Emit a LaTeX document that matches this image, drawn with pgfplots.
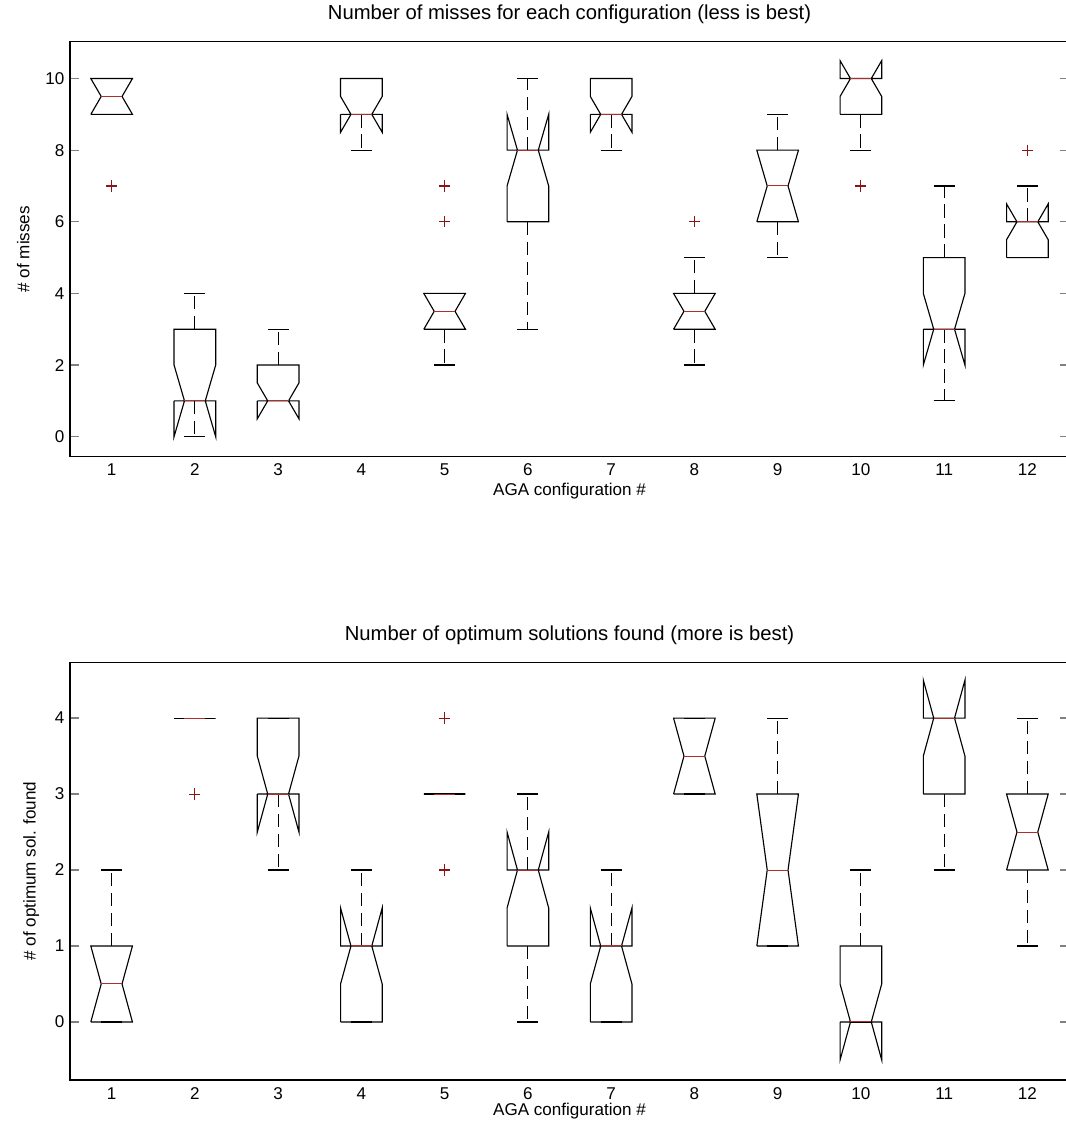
\documentclass[border=0pt]{standalone}
\usepackage{fontspec}
\setmainfont{Liberation Sans}
\usepackage{pgfplots}
\pgfplotsset{compat=1.18}

\definecolor{medred}{RGB}{175,45,45}
\definecolor{outred}{RGB}{140,20,20}

\pgfplotsset{
  boxline/.style={black, line width=0.85pt},
  whisk/.style={black, line width=0.85pt, dash pattern=on 10pt off 5pt},
  medline/.style={medred, line width=0.75pt},
  outl/.style={only marks, mark=+, mark size=4.2pt, outred, mark options={line width=0.8pt}},
  matbox/.style={
    scale only axis,
    width=749.25pt,
    xmin=0.5, xmax=12.5,
    xtick={1,...,12},
    xtick style={draw=none},
    tick pos=both,
    tick align=inside,
    major tick length=6.75pt,
    ytick style={line width=0.9pt},
    axis line style={line width=1.1pt},
    font=\fontsize{12.8}{15}\selectfont,
    ticklabel style={font=\fontsize{12.8}{15}\selectfont},
    /pgf/number format/assume math mode=true,
    yticklabel style={inner sep=1pt, xshift=-3pt},
    xticklabel style={yshift=-2pt},
    title style={at={(axis description cs:0.5,1)}, anchor=center, yshift=14.5pt, font=\fontsize{15.2}{17}\selectfont},
    xlabel style={at={(axis description cs:0.5,0)}, anchor=center},
    ylabel style={at={(axis description cs:0,0.5)}, anchor=center},
  },
}

% x, q1, q3, median, notch low, notch high, whisker low, whisker high
\newcommand{\nbox}[8]{%
  \pgfmathsetmacro\xl{#1-0.25}%
  \pgfmathsetmacro\xr{#1+0.25}%
  \pgfmathsetmacro\xml{#1-0.125}%
  \pgfmathsetmacro\xmr{#1+0.125}%
  \edef\tmp{%
    \noexpand\addplot[whisk] coordinates {(#1,#3) (#1,#8)};
    \noexpand\addplot[whisk] coordinates {(#1,#2) (#1,#7)};
    \noexpand\addplot[boxline] coordinates {(\xml,#8) (\xmr,#8)};
    \noexpand\addplot[boxline] coordinates {(\xml,#7) (\xmr,#7)};
    \noexpand\addplot[boxline] coordinates {(\xl,#2) (\xl,#5) (\xml,#4) (\xl,#6) (\xl,#3) (\xr,#3) (\xr,#6) (\xmr,#4) (\xr,#5) (\xr,#2) (\xl,#2)};
    \noexpand\addplot[medline] coordinates {(\xml,#4) (\xmr,#4)};
  }\tmp
}

\begin{document}
\begin{tikzpicture}
\path[use as bounding box] (0,0) rectangle (799.5pt,846pt);
\clip (0,0) rectangle (799.5pt,846pt);

\begin{axis}[matbox,
  at={(52.5pt,503.5pt)}, anchor=south west,
  height=311.25pt,
  ymin=-0.558, ymax=11.03,
  ytick={0,2,4,6,8,10},
  title={Number of misses for each configuration (less is best)},
  xlabel={AGA configuration \#},
  ylabel={\# of misses},
  xlabel style={yshift=-26pt},
  ylabel style={yshift=35pt},
]
\nbox{1}{9}{10}{9.5}{9}{10}{9}{10}
\nbox{2}{1}{3}{1}{0}{2}{0}{4}
\nbox{3}{1}{2}{1}{0.5}{1.5}{1}{3}
\nbox{4}{9}{10}{9}{8.5}{9.5}{8}{10}
\nbox{5}{3}{4}{3.5}{3}{4}{2}{4}
\nbox{6}{6}{8}{8}{7}{9}{3}{10}
\nbox{7}{9}{10}{9}{8.5}{9.5}{8}{10}
\nbox{8}{3}{4}{3.5}{3}{4}{2}{5}
\nbox{9}{6}{8}{7}{6}{8}{5}{9}
\nbox{10}{9}{10}{10}{9.5}{10.5}{8}{10}
\nbox{11}{3}{5}{3}{2}{4}{1}{7}
\nbox{12}{5}{6}{6}{5.5}{6.5}{5}{7}
\addplot[outl] coordinates {(1,7) (5,6) (5,7) (8,6) (10,7) (12,8)};
\end{axis}

\begin{axis}[matbox,
  at={(52.5pt,36pt)}, anchor=south west,
  height=313.3pt,
  ymin=-0.764, ymax=4.735,
  ytick={0,1,2,3,4},
  title={Number of optimum solutions found (more is best)},
  xlabel={AGA configuration \#},
  ylabel={\# of optimum sol. found},
  xlabel style={yshift=-23.5pt},
  ylabel style={yshift=29pt},
]
\nbox{1}{0}{1}{0.5}{0}{1}{0}{2}
\nbox{2}{4}{4}{4}{4}{4}{4}{4}
\nbox{3}{3}{4}{3}{2.5}{3.5}{2}{4}
\nbox{4}{0}{1}{1}{0.5}{1.5}{0}{2}
\nbox{5}{3}{3}{3}{3}{3}{3}{3}
\nbox{6}{1}{2}{2}{1.5}{2.5}{0}{3}
\nbox{7}{0}{1}{1}{0.5}{1.5}{0}{2}
\nbox{8}{3}{4}{3.5}{3}{4}{3}{4}
\nbox{9}{1}{3}{2}{1}{3}{1}{4}
\nbox{10}{0}{1}{0}{-0.5}{0.5}{0}{2}
\nbox{11}{3}{4}{4}{3.5}{4.5}{2}{4}
\nbox{12}{2}{3}{2.5}{2}{3}{1}{4}
\addplot[outl] coordinates {(2,3) (5,2) (5,4)};
\end{axis}
\end{tikzpicture}
\end{document}
